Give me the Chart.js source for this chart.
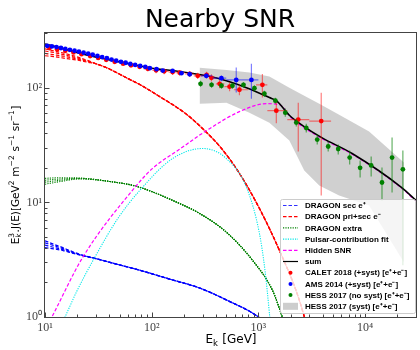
<!DOCTYPE html>
<html>
<head>
<meta charset="utf-8">
<script src="https://cdn.jsdelivr.net/npm/chart.js@4.4.1/dist/chart.umd.min.js"></script>
<style>html,body{margin:0;padding:0;background:#fff;}canvas{display:block;}</style>
</head>
<body>
<canvas id="chart" width="420" height="350"></canvas>
<script>
// ================= DATA =================
// DRAGON sec e+ (band of 4 lines)
const secPosE = [10, 12, 15, 18, 22, 30, 45, 77, 150, 281, 500, 1000, 2000];
const secPosA = [4.62, 4.32, 4.00, 3.72, 3.48, 3.23, 2.92, 2.56, 2.13, 1.79, 1.41, 1.00, 0.55];
const secPosB = [4.43, 4.20, 3.93, 3.68, 3.47, 3.23, 2.92, 2.56, 2.13, 1.79, 1.41, 1.00, 0.55];
const secPosC = [4.23, 4.06, 3.85, 3.64, 3.46, 3.23, 2.92, 2.56, 2.13, 1.79, 1.41, 1.00, 0.55];
const secPosD = [4.03, 3.93, 3.78, 3.61, 3.45, 3.23, 2.92, 2.56, 2.13, 1.79, 1.41, 1.00, 0.55];

// DRAGON pri+sec e- (band of 4 lines)
const priSecE = [10, 12, 15, 20, 25, 30, 38, 58, 81, 111, 208, 300, 451, 664, 1021, 1570, 2415, 3500];
const priSecA = [218, 210, 200, 186, 173, 161.7, 149, 122, 104, 87, 59.4, 44, 29.5, 17.9, 8.87, 3.83, 1.41, 0.4];
const priSecB = [209, 203, 194, 182, 171, 161.7, 149, 122, 104, 87, 59.4, 44, 29.5, 17.9, 8.87, 3.83, 1.41, 0.4];
const priSecC = [199, 194, 188, 178, 169, 161.7, 149, 122, 104, 87, 59.4, 44, 29.5, 17.9, 8.87, 3.83, 1.41, 0.4];
const priSecD = [190, 187, 181, 174, 167, 161.7, 149, 122, 104, 87, 59.4, 44, 29.5, 17.9, 8.87, 3.83, 1.41, 0.4];

// DRAGON extra (band of 4 lines)
const extraE = [10, 14, 21, 40.5, 72, 157, 281, 500, 879, 1350, 1675, 2000];
const extraA = [16.2, 16.4, 16.3, 15.2, 13.8, 10.4, 8.0, 5.5, 3.13, 1.72, 1.0, 0.6];
const extraB = [15.6, 16.0, 16.2, 15.2, 13.8, 10.4, 8.0, 5.5, 3.13, 1.72, 1.0, 0.6];
const extraC = [15.0, 15.6, 16.1, 15.2, 13.8, 10.4, 8.0, 5.5, 3.13, 1.72, 1.0, 0.6];
const extraD = [14.4, 15.2, 16.0, 15.2, 13.8, 10.4, 8.0, 5.5, 3.13, 1.72, 1.0, 0.6];

// Pulsar-contribution fit
const pulsarE = [14, 15.4, 20, 29.3, 48, 77.3, 157, 300, 501, 773, 1021, 1150, 1268, 1320];
const pulsarV = [0.83, 1.0, 1.7, 3.32, 7.2, 12.7, 24.1, 29.5, 24.1, 13.5, 5.4, 2.6, 1.08, 0.7];

// Hidden SNR
const snrE = [10.5, 11.6, 22.6, 72.4, 102, 182, 327, 664, 1189, 1570, 2080, 3480, 5360, 7560, 22200, 30000];
const snrV = [0.84, 1.0, 3.32, 14.1, 19.8, 29, 42.3, 61.8, 72.6, 71, 53.5, 38.5, 31.0, 26.3, 13.2, 10.2];

// sum
const sumE = [10, 15, 26.3, 77, 111, 157, 327, 501, 773, 1268, 1473, 1950, 2580, 3960, 7560, 22200, 30000];
const sumV = [241, 218, 190, 155, 146, 141, 127, 115, 100, 82, 77, 57.5, 47, 36.5, 26.7, 13.4, 10.4];

// AMS 2014 (+syst) [e+ + e-]
const amsE  = [10.5, 11.6, 12.8, 14.1, 15.5, 17.1, 18.9, 20.8, 23, 25.4, 28, 31, 34.3, 38, 42, 46.5,
               51.5, 57, 63, 70, 78, 87, 96, 111, 127, 157, 190, 227, 325, 450, 620, 860];
const amsV  = [232, 229, 226, 222, 218, 214, 210, 206, 202, 198, 194, 189, 185, 181, 176, 172,
               168, 165, 161, 158, 155, 152, 148, 145, 141, 140, 134, 131, 127, 121, 117, 117];
const amsLo = [null, null, null, null, null, null, null, null, null, null, null, null, null, null, null, null,
               null, null, null, null, null, null, null, null, null, null, null, null, 121, 114, 91, 80];
const amsHi = [null, null, null, null, null, null, null, null, null, null, null, null, null, null, null, null,
               null, null, null, null, null, null, null, null, null, null, null, null, 133, 128, 150, 162];
const amsBinLo = [null, null, null, null, null, null, null, null, null, null, null, null, null, null, null, null,
                  null, null, null, null, null, null, null, null, null, null, null, null, 290, 370, 500, 700];
const amsBinHi = [null, null, null, null, null, null, null, null, null, null, null, null, null, null, null, null,
                  null, null, null, null, null, null, null, null, null, null, null, null, 370, 500, 700, 1000];

// CALET 2018 (+syst) [e+ + e-]
const calE  = [11, 13, 15.5, 18.5, 22, 26.5, 31.5, 37.5, 45, 54, 64, 77, 92, 110, 131, 157, 183, 227, 270, 327,
               363, 433, 537, 664, 1090, 1472, 2364, 3880];
const calV  = [222, 216, 210, 203, 196, 189, 182, 175, 168, 162, 157, 152, 146, 142, 139, 137, 135, 132, 127, 129,
               122, 108, 102, 96, 106, 63, 52.7, 51.2];
const calLo = [null, null, null, null, null, null, null, null, null, null, null, null, 139, 134, 131, 129, 127, 124, 119, 120,
               113, 99, 93, 86, 82, 49, 27.8, 11.5];
const calHi = [null, null, null, null, null, null, null, null, null, null, null, null, 153, 150, 147, 145, 143, 140, 135, 138,
               131, 117, 111, 106, 132, 78, 74, 90.5];
const calBinLo = [null, null, null, null, null, null, null, null, null, null, null, null, 84, 101, 120, 144, 168, 205, 248, 300,
                  345, 400, 480, 590, 950, 1213, 1866, 3000];
const calBinHi = [null, null, null, null, null, null, null, null, null, null, null, null, 101, 120, 144, 168, 205, 248, 300, 345,
                  400, 480, 590, 800, 1213, 1866, 3000, 4800];

// HESS 2017 (no syst) [e+ + e-]
const hessE  = [287, 364, 451, 571, 725, 918, 1138, 1442, 1787, 2265, 2810, 3560, 4510, 5600, 7170, 8980, 11400, 14400, 17900, 22600];
const hessV  = [108, 106, 104, 104, 106, 99, 88.7, 77.1, 60.6, 49.6, 44.5, 35.3, 30.7, 29.2, 24.6, 20.0, 21.0, 14.9, 24.6, 19.4];
const hessLo = [102, 100, 98, 98, 100, 93, 83, 72.6, 55.9, 45.8, 40.6, 31.9, 27.8, 26.1, 21.4, 16.5, 16.8, 10.4, 12.2, 2.83];
const hessHi = [115, 112, 110, 110, 112, 105, 94, 81.9, 65.7, 53.7, 48.6, 39.0, 33.9, 31.9, 28.3, 23.2, 25.1, 20.1, 36.7, 28.3];

// HESS 2017 (syst) band
const bandE  = [281, 502, 824, 1268, 1950, 2690, 3720, 5710, 10900, 23100];
const bandHi = [149, 143, 136, 125, 100, 85, 72.6, 58.2, 41.4, 22.3];
const bandLo = [72.6, 74, 60.6, 49.5, 34.6, 19.0, 14.0, 11.5, 9.4, 3.0];

// axis ticks
const xMajor = [10, 100, 1000, 10000];
const xMajorLabels = ['10¹', '10²', '10³', '10⁴'];
const yMajor = [1, 10, 100];
const yMajorLabels = ['10⁰', '10¹', '10²'];

const legendLabels = [
  'DRAGON sec e⁺', 'DRAGON pri+sec e⁻', 'DRAGON extra', 'Pulsar-contribution fit', 'Hidden SNR', 'sum',
  'CALET 2018 (+syst) [e⁺+e⁻]', 'AMS 2014 (+syst) [e⁺+e⁻]', 'HESS 2017 (no syst) [e⁺+e⁻]', 'HESS 2017 (syst) [e⁺+e⁻]'
];

// axis titles as rich-text pieces (n: normal, sub/sup: scripts)
const yTitle = [{ n: 'E' }, { sub: 'k', sup: '3' }, { n: '.J(E)[GeV' }, { sup: '2' }, { n: ' m' }, { sup: '−2' },
                { n: ' s' }, { sup: '−1' }, { n: ' sr' }, { sup: '−1' }, { n: ']' }];
const xTitle = [{ n: 'E' }, { sub: 'k' }, { n: ' [GeV]' }];

// ================= BUILD =================
const pts = (xs, ys) => xs.map((x, i) => ({ x: x, y: ys[i] }));

function lineDS(label, xs, ys, color, dash, width) {
  return { label, data: pts(xs, ys), showLine: true, borderColor: color, borderWidth: width,
           borderDash: dash, pointRadius: 0, fill: false, cubicInterpolationMode: 'monotone' };
}
function pointDS(label, xs, ys, color, err) {
  return { label, data: pts(xs, ys), showLine: false, pointRadius: 2.4, pointBorderWidth: 0,
           pointBackgroundColor: color, pointBorderColor: color, err };
}

const C = { blue: '#0000ff', red: '#ff0000', green: '#008000', cyan: '#00e8e8', mag: '#ff00ff', black: '#000000', band: 'rgba(200,200,200,0.85)' };
const dashed = [3.5, 2], dotted = [1.2, 1.2];

function minorTicks(majors, max) {
  const out = [];
  majors.forEach(m => { for (let k = 1; k <= 9; k++) { if (m * k <= max) out.push(m * k); } });
  return out;
}

const datasets = [
  pointDS('HESS 2017 (no syst)', hessE, hessV, C.green, { lo: hessLo, hi: hessHi, color: 'rgba(0,128,0,0.6)' }),
  pointDS('AMS 2014 (+syst)', amsE, amsV, C.blue, { lo: amsLo, hi: amsHi, blo: amsBinLo, bhi: amsBinHi, color: 'rgba(0,0,255,0.5)' }),
  pointDS('CALET 2018 (+syst)', calE, calV, C.red, { lo: calLo, hi: calHi, blo: calBinLo, bhi: calBinHi, color: 'rgba(255,0,0,0.5)' }),
  lineDS('sum', sumE, sumV, C.black, [], 1.6),
  lineDS('Hidden SNR', snrE, snrV, C.mag, dashed, 1.2),
  lineDS('Pulsar-contribution fit', pulsarE, pulsarV, C.cyan, dotted, 1.1),
  lineDS('DRAGON extra', extraE, extraA, C.green, dotted, 1.1),
  lineDS('DRAGON extra', extraE, extraB, C.green, dotted, 1.1),
  lineDS('DRAGON extra', extraE, extraC, C.green, dotted, 1.1),
  lineDS('DRAGON extra', extraE, extraD, C.green, dotted, 1.1),
  lineDS('DRAGON pri+sec', priSecE, priSecA, C.red, dashed, 1.2),
  lineDS('DRAGON pri+sec', priSecE, priSecB, C.red, dashed, 1.2),
  lineDS('DRAGON pri+sec', priSecE, priSecC, C.red, dashed, 1.2),
  lineDS('DRAGON pri+sec', priSecE, priSecD, C.red, dashed, 1.2),
  lineDS('DRAGON sec', secPosE, secPosA, C.blue, dashed, 1.2),
  lineDS('DRAGON sec', secPosE, secPosB, C.blue, dashed, 1.2),
  lineDS('DRAGON sec', secPosE, secPosC, C.blue, dashed, 1.2),
  lineDS('DRAGON sec', secPosE, secPosD, C.blue, dashed, 1.2),
  { label: 'HESS syst hi', data: pts(bandE, bandHi), showLine: true, borderWidth: 0, borderColor: 'rgba(0,0,0,0)',
    pointRadius: 0, backgroundColor: C.band, fill: '+1', tension: 0 },
  { label: 'HESS syst lo', data: pts(bandE, bandLo), showLine: true, borderWidth: 0, borderColor: 'rgba(0,0,0,0)',
    pointRadius: 0, fill: false, tension: 0 }
];

const errorBars = {
  id: 'errorBars',
  beforeDatasetDraw(chart, args) {
    const ds = chart.data.datasets[args.index];
    if (!ds.err) return;
    const ctx = chart.ctx, xs = chart.scales.x, ys = chart.scales.y, a = chart.chartArea, e = ds.err;
    ctx.save();
    ctx.beginPath(); ctx.rect(a.left, a.top, a.right - a.left, a.bottom - a.top); ctx.clip();
    ctx.strokeStyle = e.color; ctx.lineWidth = 1.2; ctx.setLineDash([]);
    ds.data.forEach((p, i) => {
      const px = xs.getPixelForValue(p.x), py = ys.getPixelForValue(p.y);
      ctx.beginPath();
      if (e.lo && e.lo[i] != null) {
        ctx.moveTo(px, ys.getPixelForValue(e.lo[i])); ctx.lineTo(px, ys.getPixelForValue(e.hi[i]));
      }
      if (e.blo && e.blo[i] != null) {
        ctx.moveTo(xs.getPixelForValue(e.blo[i]), py); ctx.lineTo(xs.getPixelForValue(e.bhi[i]), py);
      }
      ctx.stroke();
    });
    ctx.restore();
  }
};

// draw text with sub/superscripts, centred at (0,0) on the baseline
function drawRich(ctx, segs, size, small, family) {
  const big = size + 'px ' + family, sm = small + 'px ' + family;
  const w = segs.map(s => {
    if (s.n != null) { ctx.font = big; return ctx.measureText(s.n).width; }
    ctx.font = sm;
    return Math.max(s.sub ? ctx.measureText(s.sub).width : 0, s.sup ? ctx.measureText(s.sup).width : 0) + 0.5;
  });
  let x = -w.reduce((a, b) => a + b, 0) / 2;
  ctx.textAlign = 'left'; ctx.textBaseline = 'alphabetic';
  segs.forEach((s, i) => {
    if (s.n != null) { ctx.font = big; ctx.fillText(s.n, x, 0); }
    else {
      ctx.font = sm;
      if (s.sub) ctx.fillText(s.sub, x, size * 0.28);
      if (s.sup) ctx.fillText(s.sup, x, -size * 0.42);
    }
    x += w[i];
  });
}

const decorations = {
  id: 'decorations',
  afterDraw(chart) {
    const ctx = chart.ctx, a = chart.chartArea, xs = chart.scales.x, ys = chart.scales.y;
    ctx.save();
    // frame
    ctx.strokeStyle = '#444'; ctx.lineWidth = 1; ctx.setLineDash([]);
    ctx.strokeRect(a.left - 0.5, a.top - 0.5, a.right - a.left + 1, a.bottom - a.top + 1);
    // inward ticks
    ctx.beginPath();
    xs.ticks.forEach(t => {
      const px = Math.round(xs.getPixelForValue(t.value)) + 0.5;
      const len = xMajor.includes(t.value) ? 4.5 : 2.5;
      ctx.moveTo(px, a.bottom); ctx.lineTo(px, a.bottom - len);
    });
    ys.ticks.forEach(t => {
      const py = Math.round(ys.getPixelForValue(t.value)) + 0.5;
      const len = yMajor.includes(t.value) ? 4.5 : 2.5;
      ctx.moveTo(a.left, py); ctx.lineTo(a.left + len, py);
    });
    ctx.stroke();
    // title
    ctx.fillStyle = '#000'; ctx.textAlign = 'center'; ctx.textBaseline = 'alphabetic';
    ctx.font = '25px "DejaVu Sans"';
    ctx.fillText('Nearby SNR', 220, 27);
    // x title
    ctx.save(); ctx.translate(231, 343);
    drawRich(ctx, xTitle, 12, 8.5, '"DejaVu Sans"');
    ctx.restore();
    // y title
    ctx.save();
    ctx.translate(18.5, 175); ctx.rotate(-Math.PI / 2);
    drawRich(ctx, yTitle, 10.5, 7.5, '"DejaVu Sans"');
    ctx.restore();
    // legend
    const L = { x: 280, y: 199, w: 135, h: 114, first: 205.5, step: 11.2, hx0: 283, hx1: 298, tx: 305 };
    ctx.fillStyle = 'rgba(255,255,255,0.8)'; ctx.strokeStyle = '#cccccc'; ctx.lineWidth = 1;
    ctx.beginPath(); ctx.roundRect(L.x + 0.5, L.y + 0.5, L.w, L.h, 2); ctx.fill(); ctx.stroke();
    const handles = [
      { t: 'line', c: '#3030ff', d: dashed }, { t: 'line', c: C.red, d: dashed }, { t: 'line', c: C.green, d: dotted },
      { t: 'line', c: C.cyan, d: dotted }, { t: 'line', c: C.mag, d: dashed }, { t: 'line', c: C.black, d: [] },
      { t: 'pt', c: C.red }, { t: 'pt', c: C.blue }, { t: 'pt', c: C.green }, { t: 'box', c: 'rgb(205,205,205)' }
    ];
    ctx.textAlign = 'left'; ctx.textBaseline = 'middle';
    ctx.font = 'bold 8px "Liberation Sans"';
    handles.forEach((h, i) => {
      const y = L.first + i * L.step;
      if (h.t === 'line') {
        ctx.strokeStyle = h.c; ctx.lineWidth = 1.2; ctx.setLineDash(h.d);
        ctx.beginPath(); ctx.moveTo(L.hx0, y); ctx.lineTo(L.hx1, y); ctx.stroke();
      } else if (h.t === 'pt') {
        ctx.fillStyle = h.c; ctx.beginPath(); ctx.arc((L.hx0 + L.hx1) / 2, y, 2, 0, Math.PI * 2); ctx.fill();
      } else {
        ctx.fillStyle = h.c; ctx.fillRect(L.hx0, y - 3.5, L.hx1 - L.hx0, 7);
      }
      ctx.setLineDash([]);
      ctx.fillStyle = '#000';
      ctx.font = 'bold 8px "Liberation Sans"';
      ctx.fillText(legendLabels[i], L.tx, y + 0.5);
    });
    ctx.restore();
  }
};

new Chart(document.getElementById('chart'), {
  type: 'scatter',
  data: { datasets },
  options: {
    responsive: false, animation: false, devicePixelRatio: 1,
    layout: { padding: { left: 0, right: 3, top: 33, bottom: 0 } },
    plugins: { legend: { display: false }, title: { display: false }, tooltip: { enabled: false } },
    scales: {
      x: {
        type: 'logarithmic', min: 10, max: 30000,
        afterBuildTicks: s => { s.ticks = minorTicks(xMajor, 30000).map(v => ({ value: v })); },
        afterFit: s => { s.height = 33; },
        grid: { drawOnChartArea: false, drawTicks: false }, border: { display: false },
        ticks: { autoSkip: false, maxRotation: 0, padding: 4, color: '#444',
                 font: { family: '"Liberation Serif"', size: 12 },
                 callback: v => { const k = xMajor.indexOf(v); return k >= 0 ? xMajorLabels[k] : ''; } }
      },
      y: {
        type: 'logarithmic', min: 1, max: 300,
        afterBuildTicks: s => { s.ticks = minorTicks(yMajor, 300).map(v => ({ value: v })); },
        afterFit: s => { s.width = 45; },
        grid: { drawOnChartArea: false, drawTicks: false }, border: { display: false },
        ticks: { autoSkip: false, padding: 3, color: '#444',
                 font: { family: '"Liberation Serif"', size: 12 },
                 callback: v => { const k = yMajor.indexOf(v); return k >= 0 ? yMajorLabels[k] : ''; } }
      }
    }
  },
  plugins: [errorBars, decorations]
});
</script>
</body>
</html>
